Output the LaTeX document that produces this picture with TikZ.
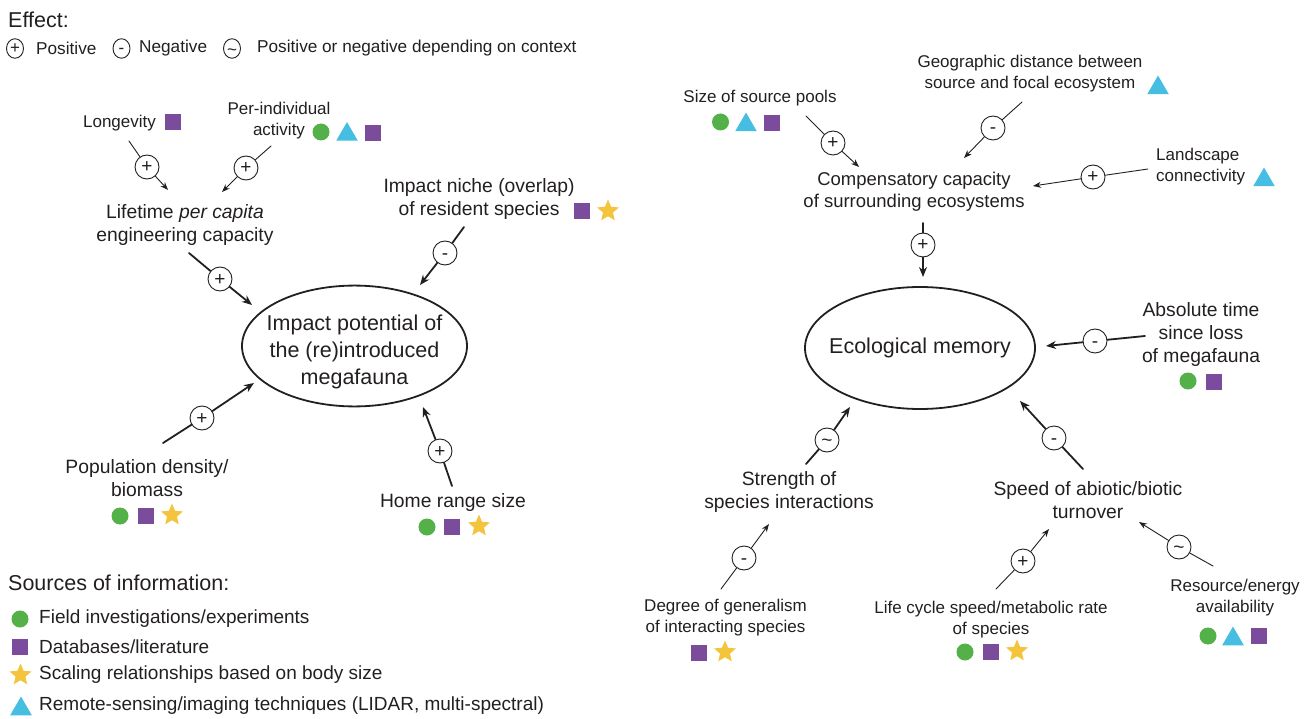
\documentclass[tikz,border=0pt]{standalone}
\usepackage{fontspec}
\setmainfont{Liberation Sans}
\usepackage{tikz}
\usetikzlibrary{arrows.meta}
\usetikzlibrary{shapes,positioning}

\definecolor{ink}{RGB}{35,31,32}
\definecolor{fieldgreen}{RGB}{84,176,72}
\definecolor{datapurple}{RGB}{124,76,156}
\definecolor{scalegold}{RGB}{243,196,60}
\definecolor{remoteblue}{RGB}{70,190,226}

\newcommand{\smallfnt}{\fontsize{17}{21}\selectfont}
\newcommand{\midfnt}{\fontsize{19.3}{23}\selectfont}
\newcommand{\bigfnt}{\fontsize{21.5}{27}\selectfont}
\newcommand{\rowfnt}{\fontsize{17.2}{20}\selectfont}

\tikzset{
  lbl/.style={align=center, inner sep=0pt, text=ink, font=\smallfnt},
  mlbl/.style={align=center, inner sep=0pt, text=ink, font=\midfnt},
  core/.style={ellipse, draw=ink, line width=1.8pt, align=center, inner xsep=-14pt,
    inner ysep=0pt, text=ink, font=\bigfnt},
  sign/.style={circle, draw=ink, line width=0.9pt, fill=white, inner sep=0pt,
    minimum size=24pt, text height=12pt, text depth=0pt, text=ink,
    font=\fontsize{19}{19}\selectfont},
  legsign/.style={ellipse, draw=ink, line width=0.9pt, inner sep=0pt,
    minimum width=17pt, minimum height=19.5pt, text height=10.6pt, text depth=0pt,
    text=ink, font=\fontsize{17}{17}\selectfont},
  thinarr/.style={draw=ink, line width=0.9pt, -{Stealth[length=8pt,width=6pt]}},
  thickarr/.style={draw=ink, line width=1.8pt, -{Stealth[length=10pt,width=8pt]}},
  fieldmk/.style={circle, fill=fieldgreen, inner sep=0pt, minimum size=17pt},
  datamk/.style={rectangle, fill=datapurple, inner sep=0pt, minimum size=16pt},
  scalemk/.style={star, star points=5, star point ratio=2.2, fill=scalegold,
    inner sep=0pt, minimum size=23pt},
  remotemk/.style={regular polygon, regular polygon sides=3, fill=remoteblue,
    inner sep=0pt, minimum size=25pt},
}

\begin{document}
\begin{tikzpicture}[x=1pt, y=-1pt, line cap=round]

  \useasboundingbox (0,0) rectangle (1311,719);

  % legend of effects
  \node [anchor=west, inner sep=0pt, text=ink, font=\bigfnt] (efft) at (8,20) {Effect:};
  \node [legsign] (lplus) at (15,48.5) {+};
  \node [anchor=west, inner sep=0pt, text=ink, font=\rowfnt] (lpos) at (36,48.5) {Positive};
  \node [legsign] (lminus) at (121.5,48.5) {-};
  \node [anchor=west, inner sep=0pt, text=ink, font=\rowfnt] (lneg) at (139,48.5) {Negative};
  \node [legsign] (ltilde) at (232,48.5) {\raisebox{-2pt}{\textasciitilde}};
  \node [anchor=west, inner sep=0pt, text=ink, font=\rowfnt] (lctx) at (257,48.5) {Positive or negative depending on context};

  % legend of sources
  \node [anchor=west, inner sep=0pt, text=ink, font=\bigfnt] (srct) at (8,583) {Sources of information:};
  \node [fieldmk] (kfield) at (20,619) {};
  \node [anchor=west, inner sep=0pt, text=ink, font=\fontsize{19}{23}\selectfont] (tfield) at (39,619) {Field investigations/experiments};
  \node [datamk] (kdata) at (20,646.5) {};
  \node [anchor=west, inner sep=0pt, text=ink, font=\fontsize{19}{23}\selectfont] (tdata) at (39,647) {Databases/literature};
  \node [scalemk] (kscale) at (20.5,675) {};
  \node [anchor=west, inner sep=0pt, text=ink, font=\fontsize{19}{23}\selectfont] (tscale) at (39,675) {Scaling relationships based on body size};
  \node [remotemk] (kremote) at (21,709) {};
  \node [anchor=west, inner sep=0pt, text=ink, font=\fontsize{19}{23}\selectfont] (tremote) at (39,706) {Remote-sensing/imaging techniques (LIDAR, multi-spectral)};

  % left: impact potential
  \node [core, minimum width=225pt, minimum height=120pt] (impact) at (354.5,346)
    {\rule{0pt}{27pt}Impact potential of\\the (re)introduced\\megafauna};

  \node [lbl] (longev) at (119.5,123) {Longevity};
  \node [datamk] at (173,122) {};

  \node [lbl] (activ) at (279,121) {Per-individual\\activity};
  \node [fieldmk] at (321,132) {};
  \node [remotemk] at (347,134.5) {};
  \node [datamk] at (373,133) {};

  \node [mlbl] (lifet) at (185,225) {Lifetime \textit{per capita}\\engineering capacity};

  \node [mlbl] (niche) at (479,199) {Impact niche (overlap)\\of resident species};
  \node [datamk] at (582,211) {};
  \node [scalemk] at (608,211) {};

  \node [mlbl] (popd) at (147,478) {Population density/\\biomass};
  \node [fieldmk] at (120,516) {};
  \node [datamk] at (146,516) {};
  \node [scalemk] at (172,515) {};

  \node [mlbl] (homer) at (453,503) {Home range size};
  \node [fieldmk] at (427,527) {};
  \node [datamk] at (452,527) {};
  \node [scalemk] at (479,526) {};

  \coordinate (longev-a) at (129,141);
  \coordinate (longev-b) at (168,190);
  \coordinate (activ-a) at (271,146);
  \coordinate (activ-b) at (222,192);
  \coordinate (lifet-a) at (189,253);
  \coordinate (lifet-b) at (252,305);
  \coordinate (niche-a) at (464,227);
  \coordinate (niche-b) at (420,285);
  \coordinate (popd-a) at (163,443);
  \coordinate (popd-b) at (254,383);
  \coordinate (homer-a) at (452,486);
  \coordinate (homer-b) at (423,407);

  \node [sign] (s-longev) at (147,167) {+};
  \node [sign] (s-activ) at (246,168) {+};
  \node [sign] (s-lifet) at (220,279) {+};
  \node [sign] (s-niche) at (445,253) {-};
  \node [sign] (s-popd) at (202,418) {+};
  \node [sign] (s-homer) at (440,451) {+};

  \draw [thinarr] (longev-a) -- (s-longev) -- (longev-b);
  \draw [thinarr] (activ-a) -- (s-activ) -- (activ-b);
  \draw [thickarr] (lifet-a) -- (s-lifet) -- (lifet-b);
  \draw [thickarr] (niche-a) -- (s-niche) -- (niche-b);
  \draw [thickarr] (popd-a) -- (s-popd) -- (popd-b);
  \draw [thickarr] (homer-a) -- (s-homer) -- (homer-b);

  % right: ecological memory
  \node [core, minimum width=230pt, minimum height=122pt] (memory) at (920,348)
    {Ecological memory};

  \node [lbl] (pools) at (760,98) {Size of source pools};
  \node [fieldmk] at (720.5,122) {};
  \node [remotemk] at (746,125) {};
  \node [datamk] at (772,123) {};

  \node [lbl] (geodist) at (1030,74) {Geographic distance between\\source and focal ecosystem};
  \node [remotemk] at (1158,88) {};

  \node [lbl, align=left, anchor=west] (landsc) at (1156,167) {Landscape\\connectivity};
  \node [remotemk] at (1264,180) {};

  \node [mlbl, font=\fontsize{18.5}{22}\selectfont] (compen) at (914,192) {Compensatory capacity\\of surrounding ecosystems};

  \node [mlbl] (abstime) at (1201,335) {Absolute time\\since loss\\of megafauna};
  \node [fieldmk] at (1188,381) {};
  \node [datamk] at (1214,382) {};

  \node [mlbl] (strength) at (789,492) {Strength of\\species interactions};

  \node [lbl] (general) at (725.5,618) {Degree of generalism\\of interacting species};
  \node [datamk] at (699,653) {};
  \node [scalemk] at (725,652) {};

  \node [mlbl] (turnov) at (1088,500) {Speed of abiotic/biotic\\turnover};

  \node [lbl] (lifecyc) at (991,620) {Life cycle speed/metabolic rate\\of species};
  \node [fieldmk] at (965,652) {};
  \node [datamk] at (991,652) {};
  \node [scalemk] at (1017,651) {};

  \node [lbl] (resour) at (1235,598) {Resource/energy\\availability};
  \node [fieldmk] at (1208,636) {};
  \node [remotemk] at (1233,639) {};
  \node [datamk] at (1259,636) {};

  \coordinate (pools-a) at (806,116);
  \coordinate (pools-b) at (859,167);
  \coordinate (geodist-a) at (1022,102);
  \coordinate (geodist-b) at (964,158);
  \coordinate (landsc-a) at (1148,169);
  \coordinate (landsc-b) at (1033,186);
  \coordinate (compen-a) at (923,223);
  \coordinate (compen-b) at (923,277);
  \coordinate (abstime-a) at (1145,336);
  \coordinate (abstime-b) at (1046,346);
  \coordinate (strength-a) at (806,464);
  \coordinate (strength-b) at (850,407);
  \coordinate (general-a) at (721,589);
  \coordinate (general-b) at (769,524);
  \coordinate (turnov-a) at (1083,469);
  \coordinate (turnov-b) at (1020,401);
  \coordinate (lifecyc-a) at (996,589);
  \coordinate (lifecyc-b) at (1049,529);
  \coordinate (resour-a) at (1213,566);
  \coordinate (resour-b) at (1139,522);

  \node [sign] (s-pools) at (833,143) {+};
  \node [sign] (s-geodist) at (993,128) {-};
  \node [sign] (s-landsc) at (1093,177) {+};
  \node [sign] (s-compen) at (923,245) {+};
  \node [sign] (s-abstime) at (1095,341) {-};
  \node [sign] (s-strength) at (827,440) {\textasciitilde};
  \node [sign] (s-general) at (744,558) {-};
  \node [sign] (s-turnov) at (1054,438) {-};
  \node [sign] (s-lifecyc) at (1023,561) {+};
  \node [sign] (s-resour) at (1179,547) {\textasciitilde};

  \draw [thinarr] (pools-a) -- (s-pools) -- (pools-b);
  \draw [thinarr] (geodist-a) -- (s-geodist) -- (geodist-b);
  \draw [thinarr] (landsc-a) -- (s-landsc) -- (landsc-b);
  \draw [thickarr] (compen-a) -- (s-compen) -- (compen-b);
  \draw [thickarr] (abstime-a) -- (s-abstime) -- (abstime-b);
  \draw [thickarr] (strength-a) -- (s-strength) -- (strength-b);
  \draw [thinarr] (general-a) -- (s-general) -- (general-b);
  \draw [thickarr] (turnov-a) -- (s-turnov) -- (turnov-b);
  \draw [thinarr] (lifecyc-a) -- (s-lifecyc) -- (lifecyc-b);
  \draw [thinarr] (resour-a) -- (s-resour) -- (resour-b);

\end{tikzpicture}
\end{document}
